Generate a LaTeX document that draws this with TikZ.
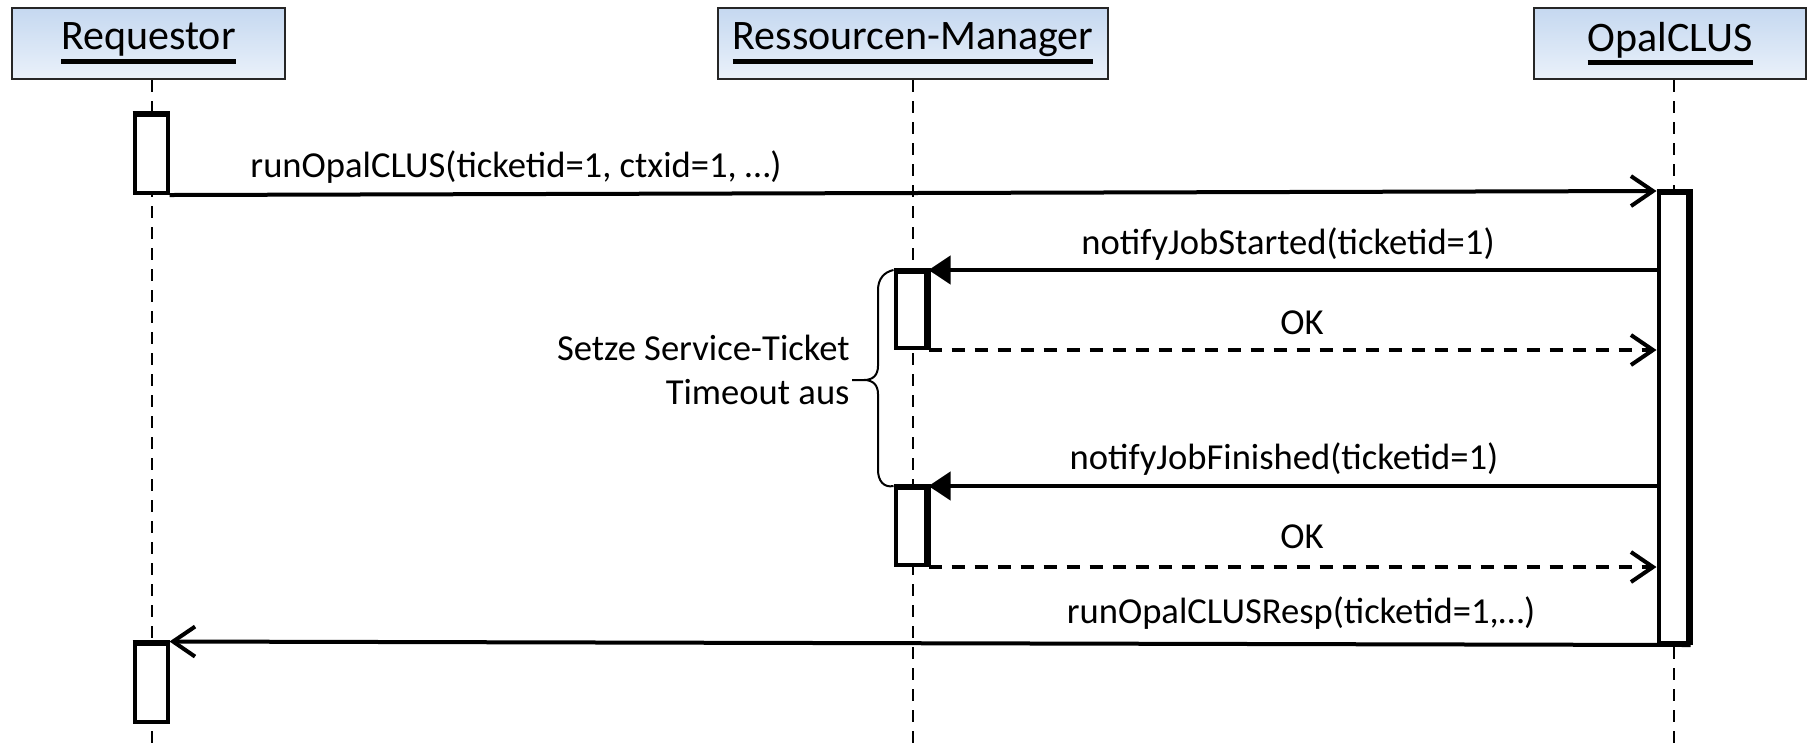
\documentclass[tikz,border=0pt]{standalone}
\usepackage{fontspec}
\setmainfont{Carlito}
\usetikzlibrary{arrows.meta}
\definecolor{boxtop}{RGB}{197,216,240}
\definecolor{boxbot}{RGB}{234,241,250}
% underlined lifeline head text
\newcommand\headtext[1]{\setbox0\hbox{#1}\leavevmode\rlap{\rule[-7pt]{\wd0}{2.4pt}}\box0}
\begin{document}
\begin{tikzpicture}[x=0.5pt,y=-0.5pt,
  head/.style={draw=black!85, line width=1pt, top color=boxtop, bottom color=boxbot,
    inner sep=0pt, minimum height=35.5pt, font=\fontsize{21}{25}\selectfont},
  lifeline/.style={line width=1pt, dash pattern=on 6pt off 4.5pt},
  act/.style={draw, fill=white, line width=2pt, inner sep=0pt},
  shade/.style={line width=3.2pt, line cap=butt, line join=miter},
  call/.style={line width=2pt, -{Straight Barb[length=11pt,width=15pt]}},
  sync/.style={line width=2pt, -{Triangle[length=11pt,width=14pt]}},
  reply/.style={line width=2pt, dash pattern=on 6.5pt off 5pt, -{Straight Barb[length=11pt,width=15pt]}},
  lbl/.style={font=\fontsize{18.3}{22}\selectfont, inner sep=0pt},
]
\useasboundingbox (0,0) rectangle (1808,752);

% lifeline heads
\node[head, minimum width=136.5pt] (req) at (148.5,43.5) {\headtext{Requestor}};
\node[head, minimum width=195pt]   (rm)  at (913,43.5)   {\headtext{Ressourcen-Manager}};
\node[head, minimum width=136pt]   (opal) at (1670,43.5) {\headtext{OpalCLUS}};

% lifelines
\coordinate (reqend)  at (152,752);
\coordinate (rmend)   at (913,752);
\coordinate (opalend) at (1674,752);
\draw[lifeline] (req.south -| reqend) -- (reqend);
\draw[lifeline] (rm.south -| rmend) -- (rmend);
\draw[lifeline] (opal.south -| opalend) -- (opalend);

% activation bars
\node[act, minimum width=16.5pt, minimum height=39pt] (a1) at (151,154) {};
\node[act, minimum width=16.5pt, minimum height=39pt] (a2) at (151,682.5) {};
\node[act, minimum width=15.5pt, minimum height=38pt]   (r1) at (911,310) {};
\node[act, minimum width=15.5pt, minimum height=38.5pt] (r2) at (911,526.5) {};
\node[act, minimum width=15pt, minimum height=225pt] (o1) at (1673.5,418) {};
\draw[shade] ([yshift=-0.6pt]a1.north west) -- ([yshift=-0.6pt]a1.north east);
\draw[shade] ([yshift=-0.6pt]a2.north west) -- ([yshift=-0.6pt]a2.north east);
\draw[shade] ([yshift=-0.6pt]r1.north west) -- ([xshift=-0.6pt,yshift=-0.6pt]r1.north east) -- ([xshift=-0.6pt]r1.south east);
\draw[shade] ([yshift=-0.6pt]r2.north west) -- ([xshift=-0.6pt,yshift=-0.6pt]r2.north east) -- ([xshift=-0.6pt]r2.south east);
\draw[shade] ([yshift=-0.6pt]o1.north west) -- ([xshift=-0.6pt,yshift=-0.6pt]o1.north east) -- ([xshift=-0.6pt]o1.south east);

% messages
\draw[call]  (a1.south east) -- (o1.north west);
\draw[sync]  (r1.north east -| o1.west) -- (r1.north east);
\draw[reply] (r1.south east) -- (r1.south east -| o1.west);
\draw[sync]  (r2.north east -| o1.west) -- (r2.north east);
\draw[reply] (r2.south east) -- (r2.south east -| o1.west);
\draw[call]  (o1.south east) -- (a2.north east);

% message labels
\node[lbl] (l1) at (516,167) {runOpalCLUS(ticketid=1, ctxid=1, …)};
\node[lbl] (l2) at (1288,244) {notifyJobStarted(ticketid=1)};
\node[lbl] (l3) at (1302,323) {OK};
\node[lbl] (l4) at (1284,459) {notifyJobFinished(ticketid=1)};
\node[lbl] (l5) at (1302,537) {OK};
\node[lbl] (l6) at (1301,613) {runOpalCLUSResp(ticketid=1,…)};

% brace with note
\coordinate (tip) at (852,380);
\draw[line width=1pt] (r1.north west) .. controls (884,272) and (878,279) .. (878,290)
  -- (878,366) .. controls (878,375) and (873,380) .. (864,380) -- (tip)
  (864,380) .. controls (873,380) and (878,385) .. (878,394)
  -- (878,470) .. controls (878,481) and (884,488) .. (r2.north west);
\node[lbl, anchor=east, align=right, font=\fontsize{18.3}{22}\selectfont] (note) at (850,370)
  {Setze Service-Ticket\\Timeout aus};
\end{tikzpicture}
\end{document}
